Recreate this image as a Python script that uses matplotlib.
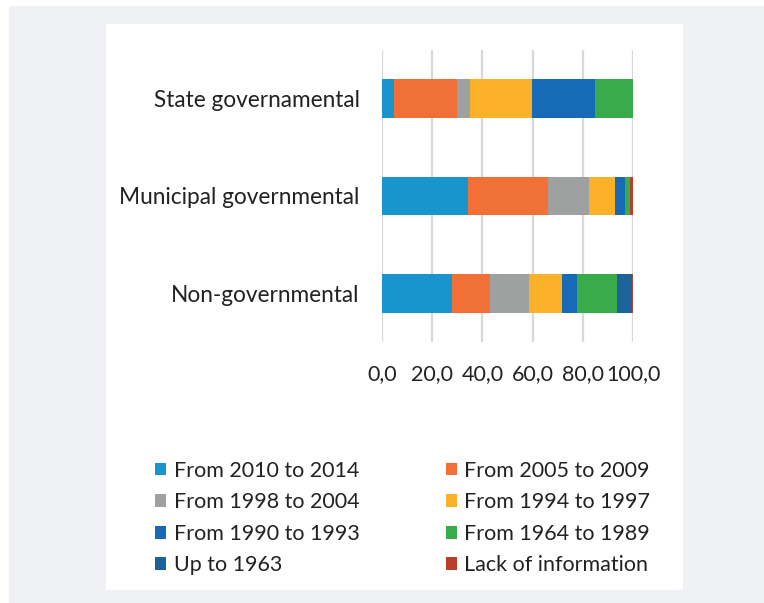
import matplotlib
matplotlib.use('Agg')
import matplotlib.pyplot as plt
from matplotlib.patches import Rectangle

# Categories bottom -> top (barh draws first at bottom)
categories = ['Non-governmental', 'Municipal governmental', 'State governamental']
series_names = ['From 2010 to 2014', 'From 2005 to 2009', 'From 1998 to 2004',
                'From 1994 to 1997', 'From 1990 to 1993', 'From 1964 to 1989',
                'Up to 1963', 'Lack of information']
colors = ['#1a94cc', '#f07038', '#9fa1a1', '#fbb02a',
          '#176bb6', '#3aab4a', '#1b6398', '#b8402a']

# values per series, order matches categories
v_2010_2014 = [27.7, 34.3, 4.8]
v_2005_2009 = [15.2, 31.8, 25.2]
v_1998_2004 = [15.5, 16.3, 5.0]
v_1994_1997 = [13.2, 10.6, 24.9]
v_1990_1993 = [6.1, 4.0, 25.0]
v_1964_1989 = [15.8, 2.0, 15.1]
v_upto_1963 = [6.1, 0.0, 0.0]
v_lack_info = [0.4, 0.9, 0.0]
values = [v_2010_2014, v_2005_2009, v_1998_2004, v_1994_1997,
          v_1990_1993, v_1964_1989, v_upto_1963, v_lack_info]

xticks = [0, 20, 40, 60, 80, 100]
xticklabels = ['0,0', '20,0', '40,0', '60,0', '80,0', '100,0']

FONT = 'Lato'
W, H = 764, 603

fig = plt.figure(figsize=(W / 100, H / 100), dpi=100)
fig.patch.set_facecolor('white')

# background panels (pixel coords -> figure fractions)
def px_rect(x0, y0, x1, y1, col):
    fig.patches.append(Rectangle((x0 / W, 1 - y1 / H), (x1 - x0) / W,
                                 (y1 - y0) / H, transform=fig.transFigure,
                                 facecolor=col, edgecolor='none', zorder=-10))

px_rect(9, 6, W, H, '#f0f1f4')
px_rect(106, 24, 683, 590, 'white')

ax = fig.add_axes([382 / W, 1 - 342 / H, (633 - 382) / W, (342 - 50) / H])
ax.set_facecolor('none')

ypos = list(range(len(categories)))
left = [0.0] * len(categories)
bars = []
for name, col, vals in zip(series_names, colors, values):
    b = ax.barh(ypos, vals, left=left, height=0.4, color=col, label=name,
                zorder=3)
    bars.append(b)
    left = [l + v for l, v in zip(left, vals)]

ax.set_xlim(0, 100)
ax.set_ylim(-0.5, 2.5)
ax.set_xticks(xticks)
ax.set_xticklabels(xticklabels, fontsize=15.5, family=FONT, color='#222222')
ax.set_yticks(ypos)
ax.set_yticklabels(categories, fontsize=16.3, family=FONT, color='#222222')
ax.tick_params(axis='both', length=0)
ax.tick_params(axis='x', pad=16)
ax.tick_params(axis='y', pad=16)
ax.grid(axis='x', color='#d9d9d9', lw=1.6, zorder=0)
for s in ax.spines.values():
    s.set_visible(False)

# legend: row-major order in two columns
order = [0, 2, 4, 6, 1, 3, 5, 7]
handles = [bars[i] for i in order]
labels = [series_names[i] for i in order]
fig.legend(handles, labels, ncol=2, loc='upper left',
           bbox_to_anchor=(146 / W, 1 - 452 / H), frameon=False,
           prop={'family': FONT, 'size': 15.5}, handlelength=0.55,
           handleheight=0.55, handletextpad=0.33, columnspacing=4.0,
           labelspacing=0.54, borderaxespad=0, labelcolor='#222222')

plt.savefig('out.png', dpi=100, facecolor='white')
